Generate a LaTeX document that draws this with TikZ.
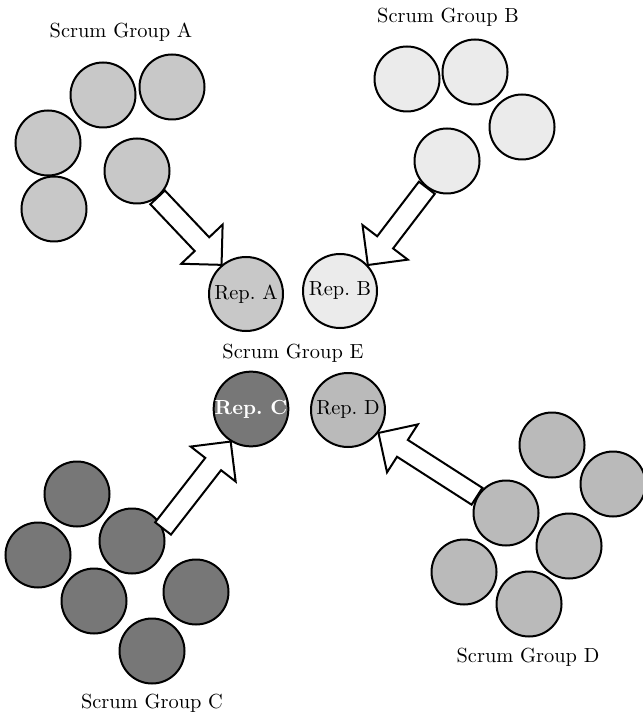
\documentclass[tikz,border=0pt]{standalone}
\usepackage{tikz}
\usetikzlibrary{shapes.arrows,calc}
\definecolor{grpA}{HTML}{C8C8C8}
\definecolor{grpB}{HTML}{EBEBEB}
\definecolor{grpC}{HTML}{777777}
\definecolor{grpD}{HTML}{BABABA}
\tikzset{member/.style={circle,draw,line width=1pt,minimum size=32.5pt,inner sep=0pt}}
\tikzset{rep/.style={member,minimum size=37pt,font=\fontsize{10.2}{12}\selectfont}}
\tikzset{fatarrow/.style={single arrow,draw,fill=white,line width=1pt,inner sep=4.5pt,
  outer sep=0pt,single arrow head extend=9.25pt,single arrow tip angle=90,anchor=tail}}
\tikzset{grouplabel/.style={font=\fontsize{10.2}{12}\selectfont}}
\newcommand\blockarrow[2]{%
  \path let \p1=($(#2)-(#1)$), \n1={atan2(\y1,\x1)}, \n2={veclen(\x1,\y1)} in
    node[fatarrow,minimum height=\n2,rotate=\n1] at (#1) {};}

\begin{document}
\begin{tikzpicture}[x=0.5pt,y=-0.5pt]
  \useasboundingbox (0,0) rectangle (642,715);
  % representatives
  \node[rep,fill=grpA] (repA) at (246,294) {Rep.\ A};
  \node[rep,fill=grpB] (repB) at (340,291) {Rep.\ B};
  \node[rep,fill=grpC,text=white,font=\fontsize{10.2}{12}\selectfont\bfseries] (repC) at (251,409) {Rep.\ C};
  \node[rep,fill=grpD] (repD) at (348,410) {Rep.\ D};
  \node[grouplabel] (labE) at (293,353) {Scrum Group E};
  % group A
  \node[member,fill=grpA] (a1) at (103,95) {};
  \node[member,fill=grpA] (a2) at (172,87) {};
  \node[member,fill=grpA] (a3) at (48,143) {};
  \node[member,fill=grpA] (a4) at (137,171) {};
  \node[member,fill=grpA] (a5) at (54,209) {};
  \node[grouplabel] (labA) at (121,32) {Scrum Group A};
  % group B
  \node[member,fill=grpB] (b1) at (407,79) {};
  \node[member,fill=grpB] (b2) at (475,72) {};
  \node[member,fill=grpB] (b3) at (522,127) {};
  \node[member,fill=grpB] (b4) at (447,161) {};
  \node[grouplabel] (labB) at (448,17) {Scrum Group B};
  % group C
  \node[member,fill=grpC] (c1) at (77,494) {};
  \node[member,fill=grpC] (c2) at (132,541) {};
  \node[member,fill=grpC] (c3) at (38,555) {};
  \node[member,fill=grpC] (c4) at (94,601) {};
  \node[member,fill=grpC] (c5) at (196,592) {};
  \node[member,fill=grpC] (c6) at (152,651) {};
  \node[grouplabel] (labC) at (152,703) {Scrum Group C};
  % group D
  \node[member,fill=grpD] (d1) at (552,445) {};
  \node[member,fill=grpD] (d2) at (613,484) {};
  \node[member,fill=grpD] (d3) at (506,513) {};
  \node[member,fill=grpD] (d4) at (569,546) {};
  \node[member,fill=grpD] (d5) at (464,572) {};
  \node[member,fill=grpD] (d6) at (529,604) {};
  \node[grouplabel] (labD) at (528,657) {Scrum Group D};
  % each group sends its rep
  \blockarrow{a4.-52}{repA.130}
  \blockarrow{b4.233}{repB.43}
  \blockarrow{c2.22}{repC.238}
  \blockarrow{d3.150}{repD.-37}
\end{tikzpicture}
\end{document}
